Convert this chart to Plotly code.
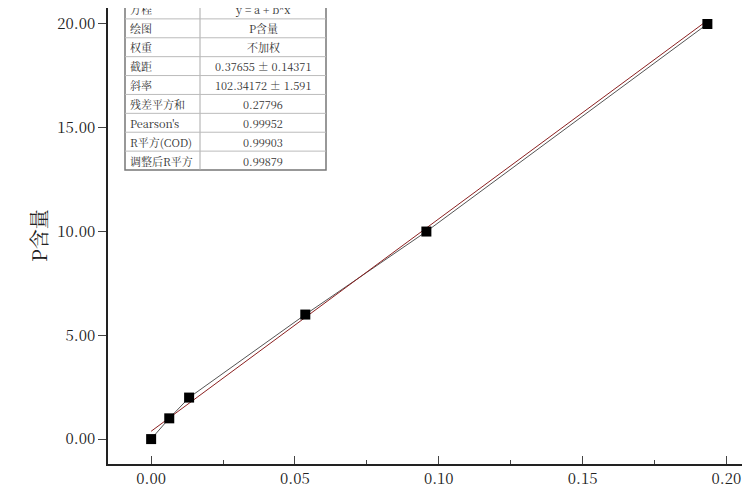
import plotly.graph_objects as go

x_vals = [0.0, 0.0063, 0.0132, 0.0536, 0.0957, 0.1934]
y_vals = [0.0, 1.0, 2.0, 6.0, 10.0, 20.0]
intercept = 0.37655
slope = 102.34172
row_labels = ["方程", "绘图", "权重", "截距", "斜率", "残差平方和", "Pearson's", "R平方(COD)", "调整后R平方"]
row_values = ["y = a + b*x", "P含量", "不加权", "0.37655 ± 0.14371", "102.34172 ± 1.591",
              "0.27796", "0.99952", "0.99903", "0.99879"]

font = "Noto Serif CJK SC, Noto Sans CJK SC, serif"
fig = go.Figure()
fig.add_trace(go.Scatter(x=x_vals, y=y_vals, mode="lines", line=dict(color="#555555", width=1), showlegend=False))
fx = [0, max(x_vals)]
fig.add_trace(go.Scatter(x=fx, y=[intercept + slope * v for v in fx], mode="lines",
                         line=dict(color="#8b2020", width=1), showlegend=False))
fig.add_trace(go.Scatter(x=x_vals, y=y_vals, mode="markers",
                         marker=dict(symbol="square", size=10, color="black"), showlegend=False))

W, H, L, B = 750, 500, 100, 44
ph = H - B
pw = W - L
def px(p): return (p - L) / pw
def py(p): return (ph - p) / ph

shapes = []
tl, tm, tr, tt, tb = 117, 192, 318, -8, 162
shapes.append(dict(type="rect", xref="paper", yref="paper", x0=px(tl), x1=px(tr), y0=py(tb), y1=py(tt),
                   line=dict(color="#777", width=1.5), fillcolor="white", layer="above"))
shapes.append(dict(type="line", xref="paper", yref="paper", x0=px(tm), x1=px(tm), y0=py(tb), y1=py(tt),
                   line=dict(color="#aaa", width=1)))
rh = (tb - tt) / len(row_labels)
ann = []
for i, (lab, val) in enumerate(zip(row_labels, row_values)):
    top = tt + i * rh
    if i > 0:
        shapes.append(dict(type="line", xref="paper", yref="paper", x0=px(tl), x1=px(tr), y0=py(top), y1=py(top),
                           line=dict(color="#bbb", width=1)))
    cy = py(top + rh / 2)
    ann.append(dict(xref="paper", yref="paper", x=px(tl + 3), y=cy, text=lab, showarrow=False,
                    xanchor="left", yanchor="middle", font=dict(size=11, color="#333", family=font)))
    ann.append(dict(xref="paper", yref="paper", x=px((tm + tr) / 2), y=cy, text=val, showarrow=False,
                    xanchor="center", yanchor="middle", font=dict(size=11, color="#333", family=font)))
ann.append(dict(xref="paper", yref="paper", x=px(30), y=py(228), text="P含量", textangle=-90, showarrow=False,
                xanchor="center", yanchor="middle", font=dict(size=20, color="#222", family=font)))

fig.update_layout(width=W, height=H, margin=dict(l=L, r=0, t=0, b=B), plot_bgcolor="white", paper_bgcolor="white",
                  shapes=shapes, annotations=ann, font=dict(family=font, size=15, color="#222"))
fig.update_xaxes(range=[-0.015, 0.211], tickvals=[0, 0.05, 0.10, 0.15, 0.20], automargin=False,
                 ticktext=["0.00", "0.05", "0.10", "0.15", "0.20"], ticks="inside", ticklen=8,
                 showline=True, linecolor="#222", linewidth=1.5, showgrid=False, zeroline=False,
                 minor=dict(ticks="inside", ticklen=4, dtick=0.025, showgrid=False))
fig.update_yaxes(range=[-1.2, 20.77], tickvals=[0, 5, 10, 15, 20], automargin=False,
                 ticktext=["0.00", "5.00", "10.00", "15.00", "20.00"], ticks="outside", ticklen=8,
                 showline=True, linecolor="#222", linewidth=1.5, showgrid=False, zeroline=False)
fig.write_html("out.html")
